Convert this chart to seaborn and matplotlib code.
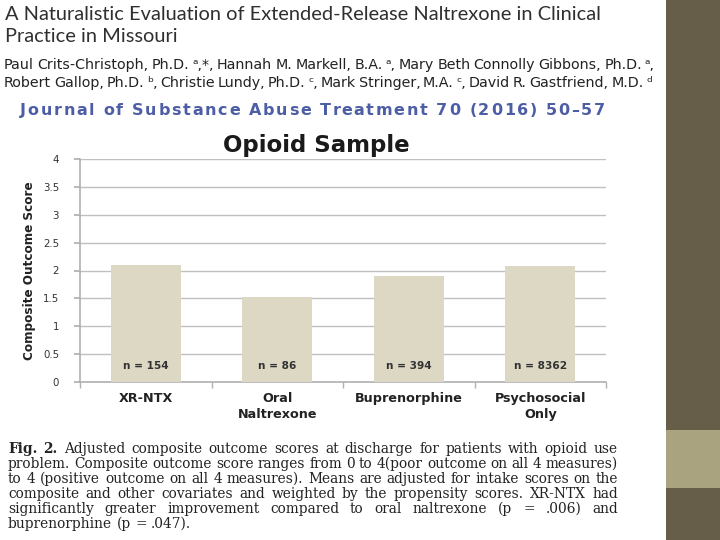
import matplotlib
matplotlib.use("Agg")
import matplotlib.pyplot as plt
import seaborn as sns
import pandas as pd
from matplotlib.patches import Rectangle

# ---- data ----
categories = ["XR-NTX", "Oral\nNaltrexone", "Buprenorphine", "Psychosocial\nOnly"]
scores = [2.10, 1.53, 1.90, 2.08]
n_labels = ["n = 154", "n = 86", "n = 394", "n = 8362"]
y_ticks = [0, 0.5, 1, 1.5, 2, 2.5, 3, 3.5, 4]
y_tick_labels = ["0", "0.5", "1", "1.5", "2", "2.5", "3", "3.5", "4"]

title_lines = ["A Naturalistic Evaluation of Extended-Release Naltrexone in Clinical",
               "Practice in Missouri"]
author_lines = ["Paul Crits-Christoph, Ph.D. \u1d43,*, Hannah M. Markell, B.A. \u1d43, Mary Beth Connolly Gibbons, Ph.D. \u1d43,",
                "Robert Gallop, Ph.D. \u1d47, Christie Lundy, Ph.D. \u1d9c, Mark Stringer, M.A. \u1d9c, David R. Gastfriend, M.D. \u1d48"]
journal = "Journal of Substance Abuse Treatment 70 (2016) 50\u201357"
caption_lines = [
    "Fig. 2. Adjusted composite outcome scores at discharge for patients with opioid use",
    "problem. Composite outcome score ranges from 0 to 4(poor outcome on all 4 measures)",
    "to 4 (positive outcome on all 4 measures). Means are adjusted for intake scores on the",
    "composite and other covariates and weighted by the propensity scores. XR-NTX had",
    "significantly greater improvement compared to oral naltrexone (p = .006) and",
    "buprenorphine (p = .047).",
]

df = pd.DataFrame({"group": categories, "score": scores})

sns.set_theme(style="white")
plt.rcParams["font.family"] = ["DejaVu Sans"]

W, H = 720, 540
fig = plt.figure(figsize=(W / 100, H / 100), dpi=100)
fig.patch.set_facecolor("white")
renderer = fig.canvas.get_renderer()


def fx(px):
    return px / W


def fy(py):
    return 1 - py / H


def width_of(s, **kw):
    t = fig.text(0, 0, s + "x", **kw)
    r = fig.text(0, 0, "x", **kw)
    w = t.get_window_extent(renderer).width - r.get_window_extent(renderer).width
    t.remove()
    r.remove()
    return w


def justified(line, x0, x1, y, justify=True, bold_words=0, **kw):
    words = line.split(" ")
    texts = []
    widths = []
    for k, w in enumerate(words):
        extra = {"fontweight": "bold"} if k < bold_words else {}
        t = fig.text(0, fy(y), w, va="center", ha="left", **kw, **extra)
        texts.append(t)
        widths.append(width_of(w, **kw, **extra))
    sp = width_of("a a", **kw) - width_of("aa", **kw)
    if justify and len(words) > 1:
        gap = (x1 - x0 - sum(widths)) / (len(words) - 1)
    else:
        gap = sp
    x = x0
    for t, w in zip(texts, widths):
        t.set_x(fx(x))
        x += w + gap


def tracked(line, x0, x1, y, **kw):
    total = width_of(line, **kw)
    n = len(line)
    extra = (x1 - x0 - total) / (n - 1)
    for i, ch in enumerate(line):
        if ch == " ":
            continue
        xi = x0 + width_of(line[:i], **kw) + i * extra
        fig.text(fx(xi), fy(y), ch, va="center", ha="left", **kw)


# sidebar
fig.patches.append(Rectangle((fx(666), 0), 1 - fx(666), 1, transform=fig.transFigure,
                             facecolor="#665e48", edgecolor="none", zorder=0))
fig.patches.append(Rectangle((fx(666), fy(488)), 1 - fx(666), (488 - 430) / H,
                             transform=fig.transFigure, facecolor="#a9a47f",
                             edgecolor="none", zorder=1))

# header text
fig.text(fx(5), fy(15), title_lines[0], fontsize=14.4, family="Lato", color="#2f2f2f",
         va="center", ha="left")
fig.text(fx(5), fy(37), title_lines[1], fontsize=14.4, family="Lato", color="#2f2f2f",
         va="center", ha="left")
auth_kw = dict(fontsize=10.3, family="DejaVu Sans", color="#222222")
justified(author_lines[0], 4, 655, 65, **auth_kw)
justified(author_lines[1], 4, 652, 83, **auth_kw)
tracked(journal, 20, 605, 111, fontsize=11.5, family="DejaVu Sans", fontweight="bold",
        color="#4d5ea6")

# caption
cap_kw = dict(fontsize=9.9, family="DejaVu Serif", color="#222222")
for i, line in enumerate(caption_lines):
    last = i == len(caption_lines) - 1
    justified(line, 8, 618, 449 + 15 * i, justify=not last,
              bold_words=2 if i == 0 else 0, **cap_kw)

# chart axes
ax = fig.add_axes([fx(80), fy(382), fx(606) - fx(80), (382 - 159) / H])
sns.barplot(data=df, x="group", y="score", color="#ddd8c4", saturation=1,
            width=0.53, ax=ax, zorder=3)
for p in ax.patches:
    p.set_edgecolor("none")

ax.set_ylim(0, 4)
ax.set_xlim(-0.5, len(categories) - 0.5)
ax.set_yticks(y_ticks)
ax.set_yticklabels(y_tick_labels, fontsize=7.4, color="#333333")
ax.yaxis.grid(True, color="#c0c0c0", linewidth=1.0, zorder=0)
ax.xaxis.grid(False)
ax.set_axisbelow(True)
for side in ["top", "right"]:
    ax.spines[side].set_visible(False)
for side in ["left", "bottom"]:
    ax.spines[side].set_color("#b0b0b0")
    ax.spines[side].set_linewidth(1.2)

ax.set_xticks(range(len(categories)))
ax.set_xticklabels(categories, fontsize=9.2, fontweight="bold", color="#222222",
                   linespacing=1.35)
ax.tick_params(axis="x", length=0, pad=7)
ax.tick_params(axis="y", length=4, color="#b0b0b0", left=True, pad=11)
ax.set_xticks([i + 0.5 for i in range(-1, len(categories))], minor=True)
ax.tick_params(axis="x", which="minor", length=4, color="#b0b0b0", bottom=True)

ax.set_xlabel("")
ax.set_ylabel("Composite Outcome Score", fontsize=9.6, fontweight="bold",
              family="DejaVu Sans", fontstretch="condensed", color="#222222", labelpad=5)

for i, lab in enumerate(n_labels):
    ax.text(i, 0.29, lab, ha="center", va="center", fontsize=7.6, fontweight="bold",
            color="#333333", zorder=4)

ax.set_title("Opioid Sample", fontsize=16.5, fontweight="bold", color="#1a1a1a",
             x=0.45, pad=5)

fig.savefig("out.png", dpi=100)
